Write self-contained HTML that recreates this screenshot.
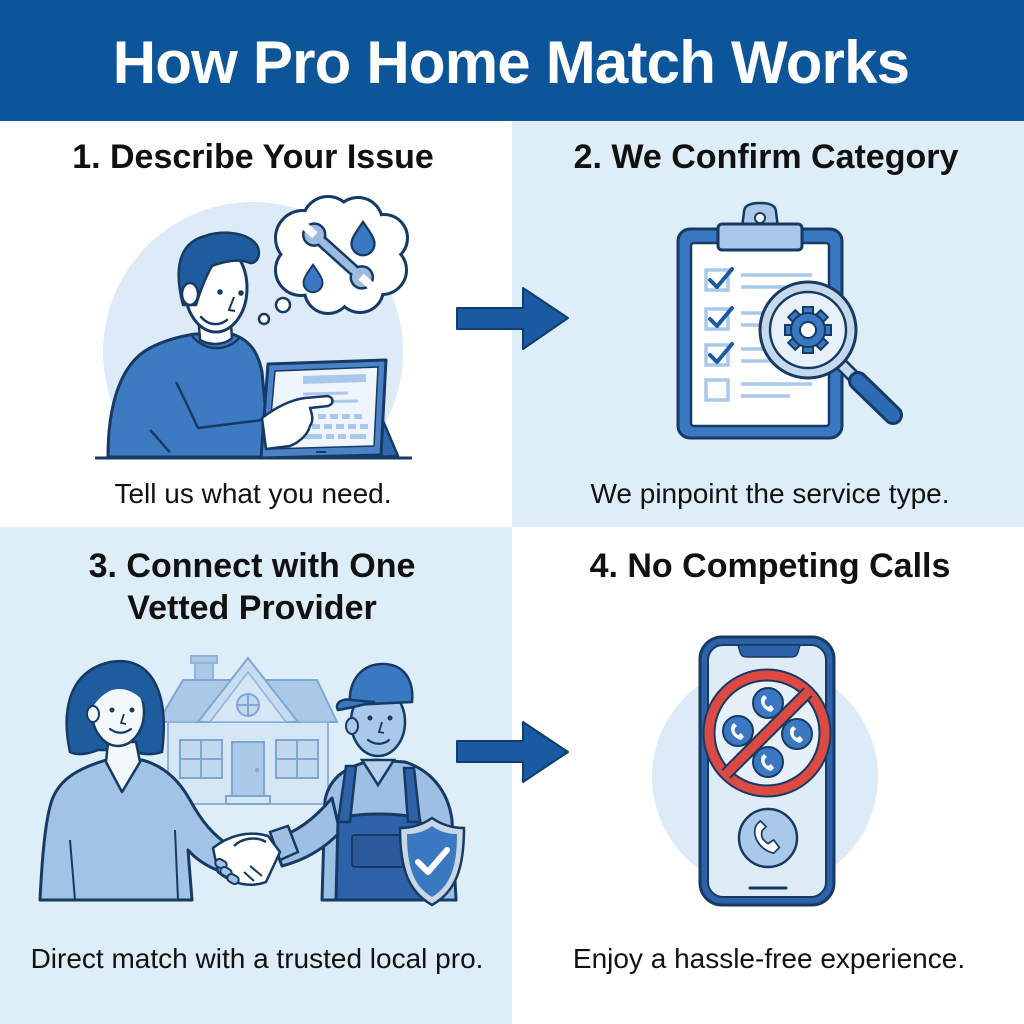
<!DOCTYPE html>
<html><head><meta charset="utf-8"><style>
html,body{margin:0;padding:0;background:#fff;}
svg{display:block;}
text{font-family:"Liberation Sans",Arial,sans-serif;}
</style></head><body>
<svg width="1024" height="1024" viewBox="0 0 1024 1024" xmlns="http://www.w3.org/2000/svg">
<defs>
<clipPath id="c1"><rect x="0" y="121" width="512" height="337"/></clipPath>
<g id="hs"><path d="M-6,-7 C-9,-2 -5,6 3,8 L6,5 L3,1 L0,3 C-3,1 -4,-1 -3,-4 L-1,-6 L-4,-9 Z" fill="#fff"/></g>
</defs>
<!-- backgrounds -->
<rect x="0" y="0" width="1024" height="1024" fill="#fff"/>
<rect x="512" y="121" width="512" height="406" fill="#deeef8"/>
<rect x="0" y="527" width="512" height="497" fill="#deeef8"/>
<rect x="0" y="0" width="1024" height="121" fill="#0d5599"/>
<text x="511" y="83" font-size="60" font-weight="bold" fill="#fff" text-anchor="middle" letter-spacing="-0.8">How Pro Home Match Works</text>

<!-- headings -->
<g font-size="34" font-weight="bold" fill="#111" text-anchor="middle">
<text x="253" y="168">1. Describe Your Issue</text>
<text x="766" y="168">2. We Confirm Category</text>
<text x="252" y="577">3. Connect with One</text>
<text x="252" y="619">Vetted Provider</text>
<text x="770" y="577">4. No Competing Calls</text>
</g>
<g font-size="28" fill="#111" text-anchor="middle">
<text x="253" y="503">Tell us what you need.</text>
<text x="770" y="503">We pinpoint the service type.</text>
<text x="257" y="968">Direct match with a trusted local pro.</text>
<text x="769" y="968">Enjoy a hassle-free experience.</text>
</g>

<!-- arrows -->
<polygon points="457,308 523,308 523,288 568,318 523,349 523,329 457,329" fill="#1a5aa3" stroke="#123c6e" stroke-width="2" stroke-linejoin="round"/>
<polygon points="457,741 523,741 523,722 568,752 523,782 523,762 457,762" fill="#1a5aa3" stroke="#123c6e" stroke-width="2" stroke-linejoin="round"/>

<!-- Q1 -->
<circle cx="253" cy="352" r="150" fill="#dcebf7" clip-path="url(#c1)"/>
<g stroke="#163a63" stroke-width="6" fill="#fff">
<circle cx="303" cy="238" r="26"/><circle cx="328" cy="222" r="24"/><circle cx="358" cy="222" r="23"/>
<circle cx="384" cy="238" r="22"/><circle cx="382" cy="270" r="23"/><circle cx="360" cy="289" r="22"/>
<circle cx="328" cy="290" r="22"/><circle cx="301" cy="270" r="24"/><circle cx="342" cy="256" r="42"/>
</g>
<g fill="#fff">
<circle cx="303" cy="238" r="26"/><circle cx="328" cy="222" r="24"/><circle cx="358" cy="222" r="23"/>
<circle cx="384" cy="238" r="22"/><circle cx="382" cy="270" r="23"/><circle cx="360" cy="289" r="22"/>
<circle cx="328" cy="290" r="22"/><circle cx="301" cy="270" r="24"/><circle cx="342" cy="256" r="42"/>
</g>
<circle cx="283" cy="305" r="7" fill="#fff" stroke="#163a63" stroke-width="2.5"/>
<circle cx="264" cy="319" r="5" fill="#fff" stroke="#163a63" stroke-width="2.5"/>
<g transform="translate(338,256) rotate(42)">
<rect x="-28" y="-5" width="56" height="10" fill="#9dbbe0" stroke="#163a63" stroke-width="2.5"/>
<circle cx="-32" cy="0" r="11" fill="#9dbbe0" stroke="#163a63" stroke-width="2.5"/>
<circle cx="32" cy="0" r="11" fill="#9dbbe0" stroke="#163a63" stroke-width="2.5"/>
<rect x="-46" y="-4" width="15" height="8" fill="#fff"/>
<rect x="31" y="-4" width="15" height="8" fill="#fff"/>
<rect x="-26" y="-3.5" width="52" height="7" fill="#9dbbe0"/>
</g>
<path transform="translate(363,238) scale(1.15)" d="M0,-14 C6,-5 10,0 10,5 A10,10 0 0 1 -10,5 C-10,0 -6,-5 0,-14 Z" fill="#3b78c2" stroke="#163a63" stroke-width="2"/>
<path transform="translate(313,278) scale(0.95)" d="M0,-14 C6,-5 10,0 10,5 A10,10 0 0 1 -10,5 C-10,0 -6,-5 0,-14 Z" fill="#3b78c2" stroke="#163a63" stroke-width="2"/>

<path d="M108,457 C108,410 118,365 150,348 C165,340 182,336 195,334 L232,334 C250,340 258,352 262,372 L266,415 L268,450 L262,457 Z" fill="#3d7ac2" stroke="#163a63" stroke-width="3" stroke-linejoin="round"/>
<path d="M176,382 C185,400 192,415 198,428 L262,420" fill="none" stroke="#163a63" stroke-width="2.5"/>
<path d="M150,430 C160,440 165,448 170,452" fill="none" stroke="#163a63" stroke-width="2.5"/>
<!-- tablet -->
<polygon points="372,395 398,456 376,457" fill="#2e67ad" stroke="#163a63" stroke-width="2.5" stroke-linejoin="round"/>
<polygon points="268,364 386,360 381,455 261,458" fill="#4a83c8" stroke="#163a63" stroke-width="3" stroke-linejoin="round"/>
<polygon points="275,371 378,367 374,446 268,449" fill="#eef5fc" stroke="#163a63" stroke-width="1.5"/>
<polygon points="303,376 366,374 366,382 303,384" fill="#a9c8ea"/>
<line x1="303" y1="394" x2="348" y2="393" stroke="#a9c8ea" stroke-width="3"/>
<line x1="300" y1="402" x2="358" y2="401" stroke="#a9c8ea" stroke-width="3"/>
<g fill="#a9c8ea">
<rect x="318" y="414" width="8" height="5"/><rect x="330" y="414" width="8" height="5"/><rect x="342" y="414" width="8" height="5"/><rect x="354" y="414" width="8" height="5"/>
<rect x="300" y="424" width="8" height="5"/><rect x="312" y="424" width="8" height="5"/><rect x="324" y="424" width="8" height="5"/><rect x="336" y="424" width="8" height="5"/><rect x="348" y="424" width="8" height="5"/><rect x="360" y="424" width="8" height="5"/>
<rect x="280" y="434" width="8" height="5"/><rect x="292" y="434" width="30" height="5"/><rect x="326" y="434" width="8" height="5"/><rect x="338" y="434" width="8" height="5"/><rect x="350" y="434" width="16" height="5"/>
</g>
<line x1="316" y1="452" x2="326" y2="452" stroke="#163a63" stroke-width="2"/>
<path d="M262,418 C275,408 290,400 305,398 L328,396 C334,398 334,404 328,406 L310,408 C312,414 314,420 310,426 C308,434 300,442 290,446 L266,449 Z" fill="#fff" stroke="#163a63" stroke-width="2.5" stroke-linejoin="round"/>
<line x1="95" y1="458" x2="412" y2="458" stroke="#163a63" stroke-width="3"/>
<!-- head -->
<path d="M198,312 L200,340 C210,346 225,345 232,338 L230,312 Z" fill="#fff" stroke="#163a63" stroke-width="2.5"/>
<path d="M192,336 C205,352 228,352 240,337" fill="none" stroke="#163a63" stroke-width="2.5"/>
<ellipse cx="216" cy="288" rx="31" ry="44" fill="#fff" stroke="#163a63" stroke-width="3"/>
<path d="M183,305 C174,270 178,243 205,236 C222,230 246,232 256,244 C262,252 258,264 250,263 C238,258 222,262 212,266 C205,278 200,292 196,305 Z" fill="#1f5c9e" stroke="#163a63" stroke-width="2.5" stroke-linejoin="round"/>
<ellipse cx="190" cy="294" rx="8" ry="11" fill="#fff" stroke="#163a63" stroke-width="2.5"/>
<circle cx="220" cy="292" r="2.8" fill="#163a63"/><circle cx="241" cy="293" r="2.8" fill="#163a63"/>
<path d="M234,297 L229,310 L235,311" fill="none" stroke="#163a63" stroke-width="2"/>
<path d="M201,317 C209,326 219,326 227,320" fill="none" stroke="#163a63" stroke-width="2.5" stroke-linecap="round"/>

<!-- Q2 clipboard -->
<rect x="678" y="229" width="164" height="209" rx="12" fill="#3b78c2" stroke="#163a63" stroke-width="3"/>
<rect x="691" y="243" width="138" height="183" rx="3" fill="#fff" stroke="#163a63" stroke-width="2.5"/>
<path d="M742,228 L744,212 C744,205 751,203 760,203 C769,203 776,205 776,212 L778,228 Z" fill="#a9c8ea" stroke="#163a63" stroke-width="2.5"/>
<circle cx="760" cy="218" r="5" fill="#fff" stroke="#163a63" stroke-width="2"/>
<rect x="718" y="224" width="84" height="26" rx="4" fill="#a9c8ea" stroke="#163a63" stroke-width="3"/>
<g fill="none" stroke="#a9c8ea" stroke-width="3.5">
<rect x="706" y="270" width="22" height="20"/><rect x="706" y="309" width="22" height="20"/><rect x="706" y="345" width="22" height="20"/><rect x="706" y="380" width="22" height="20"/>
<line x1="741" y1="275" x2="812" y2="275"/><line x1="741" y1="287" x2="790" y2="287"/>
<line x1="741" y1="313" x2="812" y2="313"/><line x1="741" y1="325" x2="790" y2="325"/>
<line x1="741" y1="349" x2="812" y2="349"/><line x1="741" y1="361" x2="790" y2="361"/>
<line x1="741" y1="384" x2="812" y2="384"/><line x1="741" y1="396" x2="790" y2="396"/>
</g>
<g fill="none" stroke="#1d5aa0" stroke-width="4" stroke-linecap="round" stroke-linejoin="round">
<path d="M710,280 L717,287 L732,269"/><path d="M710,319 L717,326 L732,308"/><path d="M710,355 L717,362 L732,344"/>
</g>
<line x1="842" y1="365" x2="856" y2="379" stroke="#163a63" stroke-width="14" stroke-linecap="round"/>
<line x1="842" y1="365" x2="856" y2="379" stroke="#c5d8ec" stroke-width="9"/>
<line x1="858" y1="381" x2="893" y2="415" stroke="#163a63" stroke-width="20" stroke-linecap="round"/>
<line x1="858" y1="381" x2="893" y2="415" stroke="#2e6bb5" stroke-width="14" stroke-linecap="round"/>
<circle cx="808" cy="330" r="48" fill="#c5d8ec" stroke="#163a63" stroke-width="3"/>
<circle cx="808" cy="330" r="38" fill="#e8f1fa" stroke="#163a63" stroke-width="2.5"/>
<g transform="translate(808,330)" fill="#3b78c2" stroke="#163a63" stroke-width="2">
<rect x="-5" y="-23" width="10" height="46"/>
<rect x="-5" y="-23" width="10" height="46" transform="rotate(45)"/>
<rect x="-5" y="-23" width="10" height="46" transform="rotate(90)"/>
<rect x="-5" y="-23" width="10" height="46" transform="rotate(135)"/>
<circle r="17"/>
<circle r="8" fill="#fff"/>
</g>

<!-- Q3 house -->
<rect x="195" y="660" width="18" height="26" fill="#aac8e8" stroke="#8fb3da" stroke-width="2"/>
<rect x="191" y="656" width="26" height="7" fill="#aac8e8" stroke="#8fb3da" stroke-width="2"/>
<polygon points="158,722 183,680 317,680 337,722" fill="#aac8e8" stroke="#7ea7d4" stroke-width="2"/>
<rect x="168" y="722" width="160" height="82" fill="#d5e6f5" stroke="#8fb3da" stroke-width="2"/>
<polygon points="198,722 248,658 298,722" fill="#c7dcf0" stroke="#7ea7d4" stroke-width="2"/>
<polygon points="210,722 248,672 286,722" fill="#d5e6f5" stroke="#8fb3da" stroke-width="1.5"/>
<circle cx="248" cy="705" r="11" fill="#c2d8ee" stroke="#7ea7d4" stroke-width="2"/>
<path d="M237,705 H259 M248,694 V716" stroke="#7ea7d4" stroke-width="2"/>
<rect x="180" y="740" width="42" height="38" fill="#c2d8ee" stroke="#7ea7d4" stroke-width="2"/>
<path d="M180,759 H222 M201,740 V778" stroke="#7ea7d4" stroke-width="2"/>
<rect x="276" y="740" width="42" height="38" fill="#c2d8ee" stroke="#7ea7d4" stroke-width="2"/>
<path d="M276,759 H318 M297,740 V778" stroke="#7ea7d4" stroke-width="2"/>
<rect x="232" y="742" width="32" height="56" fill="#aac8e8" stroke="#7ea7d4" stroke-width="2"/>
<circle cx="257" cy="770" r="2" fill="#7ea7d4"/>
<rect x="226" y="796" width="44" height="8" fill="#d5e6f5" stroke="#7ea7d4" stroke-width="2"/>
<!-- woman -->
<path d="M70,752 C62,715 66,672 110,662 C150,655 170,690 162,752 C150,756 140,754 130,750 L98,750 C88,754 78,756 70,752 Z" fill="#1f5c9e" stroke="#163a63" stroke-width="2.5"/>
<path d="M40,900 C42,860 45,820 52,800 C60,778 80,768 106,760 L142,760 C165,766 180,782 190,800 C202,822 214,836 230,846 L222,872 C205,866 195,858 188,850 L192,900 Z" fill="#a3c3e6" stroke="#163a63" stroke-width="3" stroke-linejoin="round"/>
<path d="M108,742 L106,762 L122,792 L140,762 L136,742 Z" fill="#f3f8fc" stroke="#163a63" stroke-width="2.5" stroke-linejoin="round"/>
<path d="M70,840 L75,900 M175,830 L178,900" stroke="#163a63" stroke-width="2" fill="none"/>
<ellipse cx="118" cy="712" rx="26" ry="34" fill="#f3f8fc" stroke="#163a63" stroke-width="2.5"/>
<path d="M90,712 C88,684 104,668 124,670 C142,672 150,690 148,708 C140,694 126,686 112,690 C102,694 95,702 90,712 Z" fill="#1f5c9e"/>
<ellipse cx="93" cy="714" rx="6" ry="8" fill="#f3f8fc" stroke="#163a63" stroke-width="2"/>
<circle cx="112" cy="710" r="2.5" fill="#163a63"/><circle cx="132" cy="710" r="2.5" fill="#163a63"/>
<path d="M124,714 L121,723 L126,724" fill="none" stroke="#163a63" stroke-width="1.8"/>
<path d="M110,729 C117,734 124,734 131,729" fill="none" stroke="#163a63" stroke-width="2.2" stroke-linecap="round"/>
<!-- worker -->
<path d="M322,900 L325,800 C330,775 350,765 375,760 L405,762 C430,770 448,790 452,820 L456,900 Z" fill="#9dbfe3" stroke="#163a63" stroke-width="3" stroke-linejoin="round"/>
<path d="M332,798 C315,818 298,832 272,840 L282,866 C305,860 325,848 340,832 Z" fill="#9dbfe3" stroke="#163a63" stroke-width="3" stroke-linejoin="round"/>
<path d="M270,832 L288,826 L298,852 L280,860 Z" fill="#9dbfe3" stroke="#163a63" stroke-width="2.5"/>
<path d="M336,900 L338,820 C348,812 410,812 420,820 L422,900 Z" fill="#2e62a8" stroke="#163a63" stroke-width="3"/>
<path d="M338,822 L346,766 L356,766 L350,822 Z M420,822 L414,768 L404,768 L408,822 Z" fill="#2e62a8" stroke="#163a63" stroke-width="2.5"/>
<rect x="352" y="835" width="54" height="32" rx="3" fill="#2a5a9c" stroke="#163a63" stroke-width="2"/>
<path d="M362,760 L378,785 L394,760 Z" fill="#b8d1ec" stroke="#163a63" stroke-width="2.5"/>
<ellipse cx="378" cy="722" rx="27" ry="34" fill="#a9c8ea" stroke="#163a63" stroke-width="2.5"/>
<ellipse cx="352" cy="726" rx="6" ry="8" fill="#a9c8ea" stroke="#163a63" stroke-width="2"/>
<path d="M350,705 C348,680 362,664 383,664 C404,664 414,680 412,702 Z" fill="#3b78c2" stroke="#163a63" stroke-width="2.5" stroke-linejoin="round"/>
<path d="M352,700 C342,698 334,703 338,710 C350,708 362,705 374,702 Z" fill="#3b78c2" stroke="#163a63" stroke-width="2.5" stroke-linejoin="round"/>
<circle cx="370" cy="718" r="2.5" fill="#163a63"/><circle cx="390" cy="718" r="2.5" fill="#163a63"/>
<path d="M382,722 L379,732 L384,733" fill="none" stroke="#163a63" stroke-width="1.8"/>
<path d="M368,740 C375,745 383,745 389,740" fill="none" stroke="#163a63" stroke-width="2.2" stroke-linecap="round"/>
<!-- handshake -->
<path d="M213,848 C228,836 248,830 268,836 L280,852 L266,882 C250,888 232,884 218,872 Z" fill="#fff" stroke="#163a63" stroke-width="2.5" stroke-linejoin="round"/>
<path d="M234,846 C242,838 256,836 266,842" fill="none" stroke="#163a63" stroke-width="2.5"/>
<path d="M250,866 L262,876 M244,872 L254,881" stroke="#163a63" stroke-width="2" fill="none"/>
<g fill="#a3c3e6" stroke="#163a63" stroke-width="2">
<rect x="215" y="860" width="12" height="8" rx="4" transform="rotate(30 221 864)"/>
<rect x="220" y="868" width="12" height="8" rx="4" transform="rotate(30 226 872)"/>
<rect x="227" y="875" width="12" height="8" rx="4" transform="rotate(30 233 879)"/>
</g>
<path d="M432,818 C442,825 452,828 464,828 C464,870 455,892 432,905 C409,892 400,870 400,828 C412,828 422,825 432,818 Z" fill="#c9d6e3" stroke="#163a63" stroke-width="2.5"/>
<path d="M432,826 C440,832 448,834 457,834 C457,868 450,886 432,897 C414,886 407,868 407,834 C416,834 424,832 432,826 Z" fill="#3b78c2"/>
<path d="M418,862 L428,872 L447,850" fill="none" stroke="#fff" stroke-width="6" stroke-linecap="round" stroke-linejoin="round"/>

<!-- Q4 phone -->
<circle cx="765" cy="777" r="113" fill="#dcebf7"/>
<rect x="700" y="637" width="134" height="268" rx="22" fill="#2e62a8" stroke="#163a63" stroke-width="3"/>
<rect x="708" y="645" width="118" height="252" rx="15" fill="#dfecf8" stroke="#163a63" stroke-width="2"/>
<path d="M738,645 L800,645 L798,652 C797,656 795,657 790,657 L748,657 C743,657 741,656 740,652 Z" fill="#2e62a8" stroke="#163a63" stroke-width="1.5"/>
<line x1="750" y1="888" x2="786" y2="888" stroke="#163a63" stroke-width="3" stroke-linecap="round"/>
<circle cx="767" cy="733" r="58" fill="#e7f0f9" stroke="#163a63" stroke-width="13"/>
<circle cx="767" cy="733" r="58" fill="none" stroke="#dc4a43" stroke-width="9"/>
<g stroke="#163a63" stroke-width="2" fill="#3b78c2">
<circle cx="768" cy="703" r="15"/><circle cx="738" cy="731" r="15"/><circle cx="797" cy="734" r="15"/><circle cx="768" cy="762" r="15"/>
</g>
<use href="#hs" x="768" y="704"/><use href="#hs" x="738" y="732"/><use href="#hs" x="797" y="735"/><use href="#hs" x="768" y="763"/>
<line x1="808" y1="692" x2="726" y2="774" stroke="#163a63" stroke-width="13"/>
<line x1="808" y1="692" x2="726" y2="774" stroke="#dc4a43" stroke-width="9"/>
<circle cx="768" cy="838" r="29" fill="#a9c8ea" stroke="#163a63" stroke-width="2.5"/>
<path transform="translate(768,838) scale(1.9)" d="M-6,-7 C-9,-2 -5,6 3,8 L6,5 L3,1 L0,3 C-3,1 -4,-1 -3,-4 L-1,-6 L-4,-9 Z" fill="#fff" stroke="#163a63" stroke-width="0.9" stroke-linejoin="round"/>
</svg>
</body></html>
